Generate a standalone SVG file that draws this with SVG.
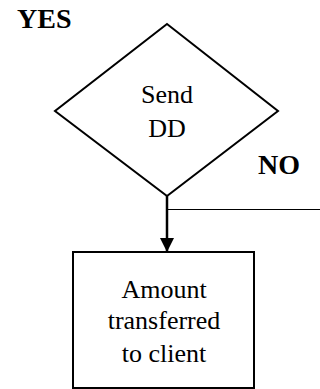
<svg xmlns="http://www.w3.org/2000/svg" width="320" height="389" viewBox="0 0 320 389">
<style>
.shape{fill:#fff;stroke:#000;stroke-width:2}
.t{font-family:"Liberation Serif","Times New Roman",serif;font-size:26px;fill:#000;text-anchor:middle}
.b{font-family:"Liberation Serif","Times New Roman",serif;font-size:28px;font-weight:bold;fill:#000}
.c{stroke:#000;fill:none}
</style>
<defs>
<marker id="arr" markerWidth="14" markerHeight="14" refX="14" refY="7" orient="auto" markerUnits="userSpaceOnUse">
<path d="M0,0 L14,7 L0,14 Z" fill="#000"/>
</marker>
</defs>
<rect width="320" height="389" fill="#fff"/>
<g id="connectors">
<line class="c" x1="167" y1="209.5" x2="320" y2="209.5" stroke-width="1"/>
<line class="c" x1="167" y1="196" x2="167" y2="252" stroke-width="2.5" marker-end="url(#arr)"/>
</g>
<g id="decision">
<polygon class="shape" points="167,24 278,111 167,196 55,111"/>
<text class="t" x="167" y="103">Send</text>
<text class="t" x="167" y="137">DD</text>
</g>
<g id="transfer">
<rect class="shape" x="73" y="252" width="181" height="136"/>
<text class="t" x="164" y="298">Amount</text>
<text class="t" x="164" y="329">transferred</text>
<text class="t" x="164" y="362">to client</text>
</g>
<g id="labels">
<text class="b" x="17" y="28">YES</text>
<text class="b" x="258" y="174">NO</text>
</g>
</svg>
